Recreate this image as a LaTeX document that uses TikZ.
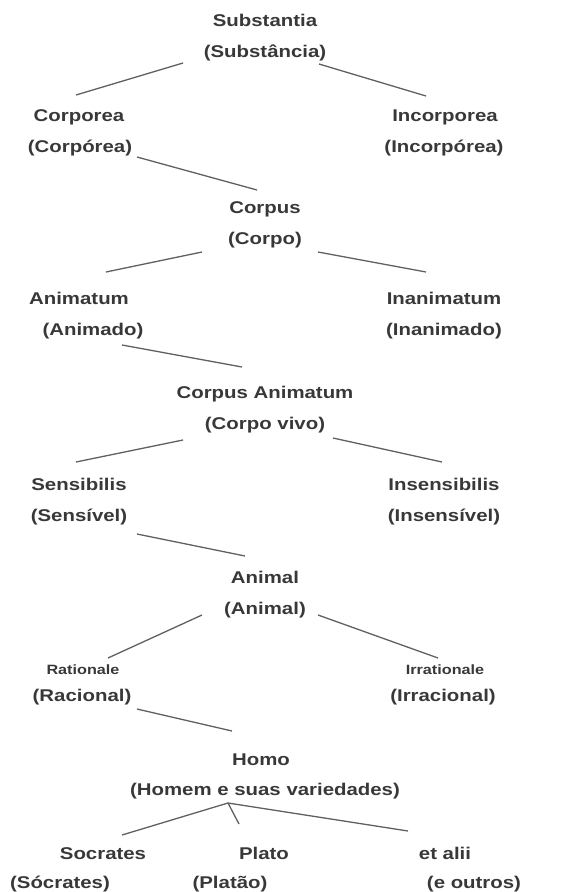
\documentclass[tikz,border=0pt]{standalone}
\usepackage{fontspec}
\newfontfamily\lab{Liberation Sans Bold}[FakeStretch=1.2]
\definecolor{txt}{HTML}{383838}
\definecolor{ln}{HTML}{606060}
\begin{document}
\begin{tikzpicture}[x=1pt,y=-1pt,
  t/.style={anchor=base, inner sep=0pt, text=txt, font=\lab\fontsize{17}{17}\selectfont},
  ts/.style={t, font=\lab\fontsize{13.5}{13.5}\selectfont},
  link/.style={draw=ln, line width=1.3pt}]
\useasboundingbox (0,0) rectangle (569,892);
% texts
\node[t] (substL) at (265,26) {Substantia};
\node[t] (substP) at (265,57.5) {(Substância)};
\node[t] (corpL) at (79,121.5) {Corporea};
\node[t] (corpP) at (80,152.5) {(Corpórea)};
\node[t] (incL) at (445,121.5) {Incorporea};
\node[t] (incP) at (444,152.5) {(Incorpórea)};
\node[t] (corpusL) at (265,213) {Corpus};
\node[t] (corpusP) at (265,244) {(Corpo)};
\node[t] (animL) at (79,304) {Animatum};
\node[t] (animP) at (93,335) {(Animado)};
\node[t] (inanL) at (444,304) {Inanimatum};
\node[t] (inanP) at (444,335) {(Inanimado)};
\node[t] (caL) at (265,398) {Corpus Animatum};
\node[t] (caP) at (265,429) {(Corpo vivo)};
\node[t] (sensL) at (79,490) {Sensibilis};
\node[t] (sensP) at (79,521) {(Sensível)};
\node[t] (insL) at (444,490) {Insensibilis};
\node[t] (insP) at (444,521) {(Insensível)};
\node[t] (animalL) at (265,583) {Animal};
\node[t] (animalP) at (265,614) {(Animal)};
\node[ts] (ratL) at (83,674) {Rationale};
\node[t] (ratP) at (82,701) {(Racional)};
\node[ts] (irrL) at (445,674) {Irrationale};
\node[t] (irrP) at (443,701) {(Irracional)};
\node[t] (homoL) at (261,765) {Homo};
\node[t] (homoP) at (265,795) {(Homem e suas variedades)};
\node[t] (socL) at (103,859) {Socrates};
\node[t] (platL) at (264,859) {Plato};
\node[t] (aliiL) at (445,859) {et alii};
\node[t] (socP) at (60,888) {(Sócrates)};
\node[t] (platP) at (230,888) {(Platão)};
\node[t] (aliiP) at (474,888) {(e outros)};
% connector ends
\coordinate (a1) at (183,63);  \coordinate (b1) at (76,95);
\coordinate (a2) at (319,64);  \coordinate (b2) at (426,96);
\coordinate (a3) at (137,157); \coordinate (b3) at (257,190);
\coordinate (a4) at (202,252); \coordinate (b4) at (106,272);
\coordinate (a5) at (318,252); \coordinate (b5) at (426,272);
\coordinate (a6) at (122,345); \coordinate (b6) at (242,367);
\coordinate (a7) at (183,440); \coordinate (b7) at (76,462);
\coordinate (a8) at (333,438); \coordinate (b8) at (442,462);
\coordinate (a9) at (137,534); \coordinate (b9) at (245,556);
\coordinate (a10) at (202,615); \coordinate (b10) at (108,658);
\coordinate (a11) at (318,615); \coordinate (b11) at (438,658);
\coordinate (a12) at (137,709); \coordinate (b12) at (232,731);
\coordinate (hub) at (228,803);
\coordinate (e1) at (122,835); \coordinate (e2) at (239,824); \coordinate (e3) at (408,831);
% connectors
\draw[link] (a1) -- (b1);
\draw[link] (a2) -- (b2);
\draw[link] (a3) -- (b3);
\draw[link] (a4) -- (b4);
\draw[link] (a5) -- (b5);
\draw[link] (a6) -- (b6);
\draw[link] (a7) -- (b7);
\draw[link] (a8) -- (b8);
\draw[link] (a9) -- (b9);
\draw[link] (a10) -- (b10);
\draw[link] (a11) -- (b11);
\draw[link] (a12) -- (b12);
\draw[link] (hub) -- (e1);
\draw[link] (hub) -- (e2);
\draw[link] (hub) -- (e3);
\end{tikzpicture}
\end{document}
